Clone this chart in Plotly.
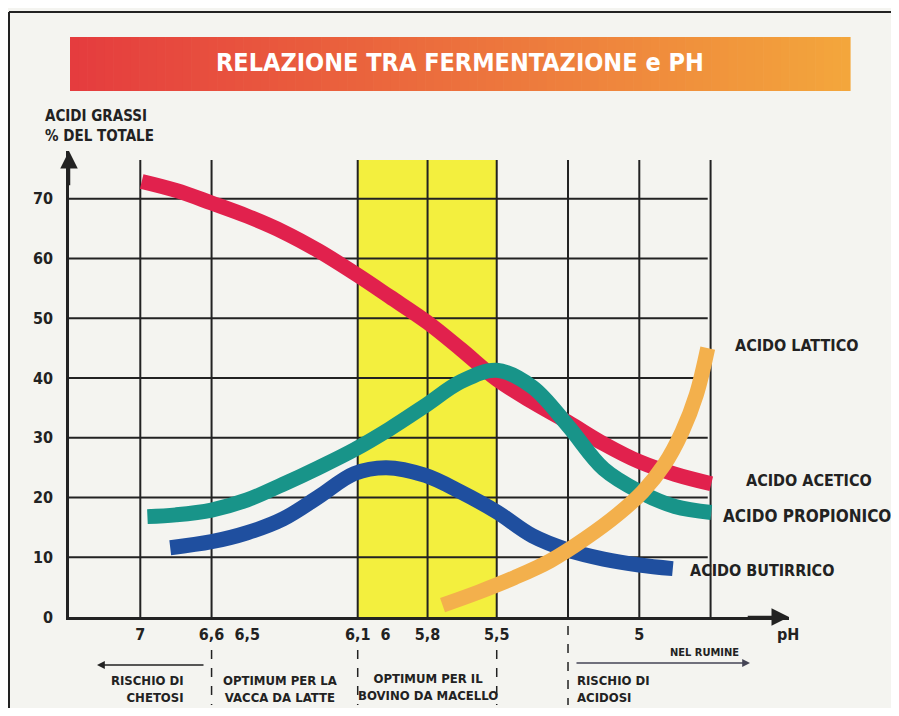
import plotly.graph_objects as go

# x positions are in grid columns of the printed (non-linear) pH scale
PH_TICK_POS = [1, 2, 2.5, 4.05, 4.44, 5.03, 6, 8]
PH_TICK_TEXT = ["7", "6,6", "6,5", "6,1", "6", "5,8", "5,5", "5"]
Y_TICKS = [0, 10, 20, 30, 40, 50, 60, 70]
GRID_X = [1, 2, 4.05, 5.03, 6, 7, 8, 9]
GRID_Y = [10, 20, 30, 40, 50, 60, 70]

ACETICO_X = [1.02, 1.5, 2.0, 2.5, 3.0, 3.5, 4.05, 4.5, 5.03, 5.5, 6.0, 6.5, 7.0, 7.5, 8.0, 8.5, 9.01]
ACETICO_Y = [72.9, 71.4, 69.3, 67.1, 64.5, 61.3, 57.2, 53.6, 49.3, 44.8, 39.8, 36.0, 32.6, 29.0, 26.0, 23.9, 22.3]

PROPIONICO_X = [1.1, 1.5, 2.0, 2.5, 3.0, 3.5, 4.0, 4.5, 5.0, 5.5, 6.0, 6.5, 7.0, 7.5, 8.0, 8.5, 9.01]
PROPIONICO_Y = [16.8, 17.1, 17.9, 19.6, 22.2, 25.0, 28.0, 31.5, 35.4, 39.4, 41.3, 38.5, 32.0, 24.8, 21.0, 18.5, 17.5]

BUTIRRICO_X = [1.42, 2.0, 2.5, 3.0, 3.5, 4.0, 4.45, 5.0, 5.5, 6.0, 6.5, 7.0, 7.5, 8.0, 8.47]
BUTIRRICO_Y = [11.6, 12.6, 14.1, 16.4, 20.1, 24.0, 25.0, 23.7, 20.9, 17.6, 13.6, 11.2, 9.7, 8.7, 8.1]

LATTICO_X = [5.24, 5.75, 6.25, 6.75, 7.25, 7.7, 8.05, 8.35, 8.6, 8.8, 8.96]
LATTICO_Y = [2.0, 4.2, 6.6, 9.4, 13.2, 17.2, 21.0, 25.5, 31.0, 37.2, 45.0]

# the page adds an 8px body margin, so the figure is drawn 8px smaller each way
OFF = 8
W, H = 883, 700
L, T = 69 - OFF, 151 - OFF
PW, PH = 720, 466
R, B = W - L - PW, H - T - PH
INK = "#222222"
FONT = "Liberation Sans Narrow, DejaVu Sans Condensed, Arial Narrow, sans-serif"


def px(x):
    # reference-pixel x -> paper coordinate
    return (x - OFF - L) / PW


def py(y):
    # reference-pixel y -> paper coordinate
    return (T + PH - (y - OFF)) / PH


fig = go.Figure()

curves = [
    (ACETICO_X, ACETICO_Y, "#e1214d", "ACIDO ACETICO"),
    (BUTIRRICO_X, BUTIRRICO_Y, "#1f4f9f", "ACIDO BUTIRRICO"),
    (PROPIONICO_X, PROPIONICO_Y, "#189489", "ACIDO PROPIONICO"),
    (LATTICO_X, LATTICO_Y, "#f3b04c", "ACIDO LATTICO"),
]
for xs, ys, col, name in curves:
    fig.add_trace(go.Scatter(
        x=xs, y=ys, mode="lines", name=name,
        line=dict(color=col, width=15, shape="spline", smoothing=1.0),
        hoverinfo="skip", showlegend=False,
    ))

shapes = []
# yellow optimum band
shapes.append(dict(type="rect", xref="x", yref="y", x0=4.05, x1=6, y0=0, y1=76.5,
                   fillcolor="#f3ef3e", line=dict(width=0), layer="below"))
for gx in GRID_X:
    shapes.append(dict(type="line", xref="x", yref="y", x0=gx, x1=gx, y0=0, y1=76.5,
                       line=dict(color=INK, width=2), layer="below"))
for gy in GRID_Y:
    shapes.append(dict(type="line", xref="x", yref="y", x0=0, x1=8.96, y0=gy, y1=gy,
                       line=dict(color=INK, width=2), layer="below"))

# dashed separators under the axis
for gx, top in [(2, 650), (4.05, 650), (6, 650), (7, 626)]:
    shapes.append(dict(type="line", xref="x", yref="paper", x0=gx, x1=gx, y0=py(top), y1=py(705),
                       line=dict(color=INK, width=1.5, dash="dash")))

# title banner with a red->orange gradient
n = 90
c0, c1 = (229, 60, 62), (243, 166, 60)
bx0, bx1 = 70, 850
for i in range(n):
    t = i / (n - 1)
    col = "rgb(%d,%d,%d)" % tuple(round(a + (b - a) * t) for a, b in zip(c0, c1))
    xa = bx0 + (bx1 - bx0) * i / n
    xb = bx0 + (bx1 - bx0) * (i + 1) / n + 0.6
    shapes.append(dict(type="rect", xref="paper", yref="paper", x0=px(xa), x1=px(xb),
                       y0=py(37), y1=py(91), fillcolor=col, line=dict(width=0)))

# page frame
shapes.append(dict(type="line", xref="paper", yref="paper", x0=px(9), x1=px(899), y0=py(12), y1=py(12),
                   line=dict(color=INK, width=2)))
shapes.append(dict(type="line", xref="paper", yref="paper", x0=px(9), x1=px(9), y0=py(12), y1=py(716),
                   line=dict(color=INK, width=2)))


def txt(x, y, text, size=13, xanchor="center", align="center", color=INK):
    return dict(xref="paper", yref="paper", x=px(x), y=py(y), text=text, showarrow=False,
                xanchor=xanchor, yanchor="middle", align=align,
                font=dict(family=FONT, size=size, color=color, weight=700))


annotations = [
    txt(460, 63, "RELAZIONE TRA FERMENTAZIONE e PH", size=25, color="white"),
    txt(43, 126, "ACIDI GRASSI<br>% DEL TOTALE", size=15, xanchor="left", align="left"),
    txt(775, 634, "pH", size=16, xanchor="left", align="left"),
    txt(733, 345, "ACIDO LATTICO", size=16, xanchor="left", align="left"),
    txt(744, 480, "ACIDO ACETICO", size=16, xanchor="left", align="left"),
    txt(721, 516, "ACIDO PROPIONICO", size=17, xanchor="left", align="left"),
    txt(688, 570, "ACIDO BUTIRRICO", size=16, xanchor="left", align="left"),
    txt(186, 689, "RISCHIO DI<br>CHETOSI", xanchor="right", align="right"),
    txt(280, 689, "OPTIMUM PER LA<br>VACCA DA LATTE"),
    txt(428, 687, "OPTIMUM PER IL<br>BOVINO DA MACELLO"),
    txt(575, 689, "RISCHIO DI<br>ACIDOSI", xanchor="left", align="left"),
    txt(741, 652, "NEL RUMINE", size=11, xanchor="right", align="right"),
    # axis arrowheads
    dict(xref="x", yref="y", axref="x", ayref="y", x=10.1, y=0, ax=9.5, ay=0, text="",
         showarrow=True, arrowhead=2, arrowsize=1.4, arrowwidth=2.5, arrowcolor=INK),
    dict(xref="x", yref="y", axref="x", ayref="y", x=0, y=78, ax=0, ay=72, text="",
         showarrow=True, arrowhead=2, arrowsize=1.4, arrowwidth=2.5, arrowcolor=INK),
    # range arrows under the axis
    dict(xref="paper", yref="paper", x=px(97), y=py(665), ax=108, ay=0, text="",
         showarrow=True, arrowhead=2, arrowsize=1.2, arrowwidth=1.3, arrowcolor=INK),
    dict(xref="paper", yref="paper", x=px(750), y=py(663), ax=-175, ay=0, text="",
         showarrow=True, arrowhead=2, arrowsize=1.2, arrowwidth=1.3, arrowcolor="#444455"),
]

fig.update_layout(
    width=W, height=H,
    margin=dict(l=L, r=R, t=T, b=B, pad=0),
    paper_bgcolor="#f4f4f0", plot_bgcolor="rgba(0,0,0,0)",
    shapes=shapes, annotations=annotations,
    xaxis=dict(range=[0, 10.1], showgrid=False, zeroline=False, showline=True,
               linecolor=INK, linewidth=2.5, tickvals=PH_TICK_POS, ticktext=PH_TICK_TEXT,
               ticks="", ticklabelstandoff=1,
               tickfont=dict(family=FONT, size=16, color=INK, weight=700), fixedrange=True),
    yaxis=dict(range=[0, 78], showgrid=False, zeroline=False, showline=True,
               linecolor=INK, linewidth=2.5, tickvals=Y_TICKS, ticks="", ticklabelstandoff=10,
               tickfont=dict(family=FONT, size=16, color=INK, weight=700), fixedrange=True),
)

fig.write_html("out.html")
